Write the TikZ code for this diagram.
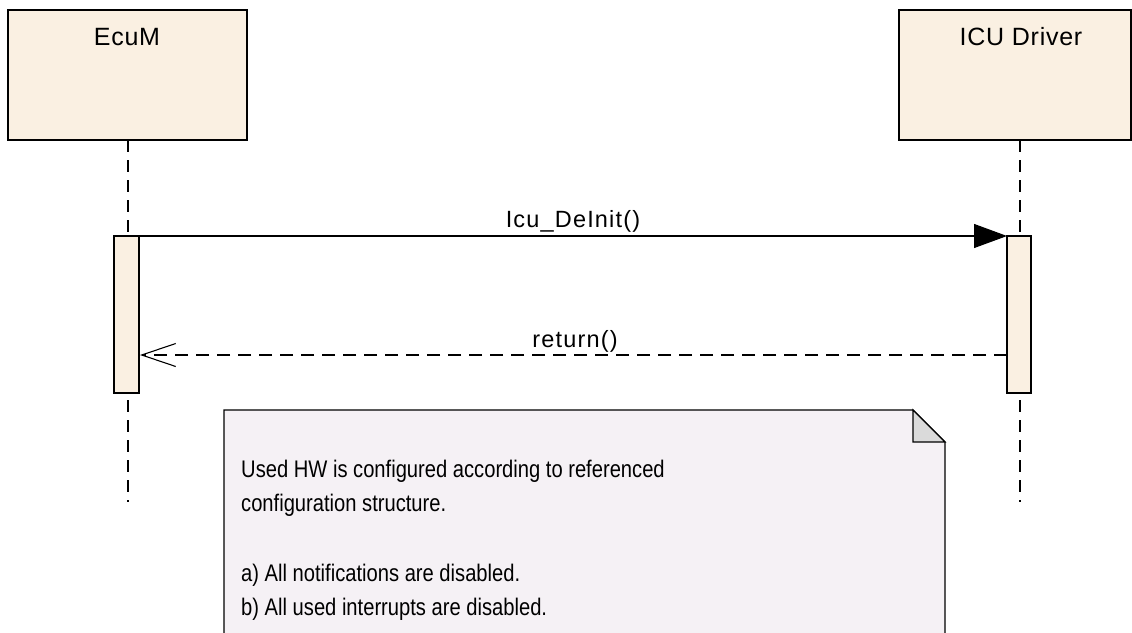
\documentclass[tikz,border=0pt]{standalone}
\usepackage{fontspec}
\setmainfont{Liberation Sans}
\usetikzlibrary{arrows.meta}
\definecolor{lifefill}{HTML}{FAF0E2}
\definecolor{notefill}{HTML}{F5F1F5}
\definecolor{foldfill}{HTML}{DADADA}
\newcommand{\notescale}[1]{\scalebox{0.84}[1]{#1}}
\begin{document}
\begin{tikzpicture}[x=1pt,y=-1pt,
  headbox/.style={draw=black,line width=1.3pt,fill=lifefill},
  actbox/.style={draw=black,line width=1.1pt,fill=lifefill},
  lifeline/.style={line width=1.1pt,dash pattern=on 12pt off 8pt},
  callmsg/.style={line width=1.1pt,-{Triangle[length=33pt,width=24pt]}},
  retmsg/.style={line width=1.1pt,dash pattern=on 13pt off 8pt,-{Straight Barb[length=34pt,width=23pt,line width=1.1pt]}},
  headlbl/.style={font=\fontsize{25}{29}\selectfont\addfontfeature{LetterSpace=3},inner sep=0pt,anchor=base},
  lbl/.style={font=\fontsize{23.5}{27}\selectfont\addfontfeature{LetterSpace=5},inner sep=0pt,anchor=base},
  notetext/.style={font=\fontsize{24}{28}\selectfont,inner sep=0pt,anchor=base west}
]
\useasboundingbox (0,0) rectangle (1132,632);
% headers
\draw[headbox] (8,10) rectangle (247,140);
\draw[headbox] (899,10) rectangle (1131,140);
\node[headlbl] (ecumlbl) at (127,45) {EcuM};
\node[headlbl] (iculbl) at (1021,45) {ICU Driver};
% lifelines
\coordinate (ecumtop) at (128,140);
\coordinate (ecumbot) at (128,502);
\coordinate (icutop) at (1020,140);
\coordinate (icubot) at (1020,502);
\draw[lifeline] (ecumtop) -- (ecumbot);
\draw[lifeline] (icutop) -- (icubot);
% activations
\draw[actbox] (114,236) rectangle (139,393);
\draw[actbox] (1007,236) rectangle (1031,393);
\coordinate (callS) at (139,236);
\coordinate (callE) at (1007,236);
\coordinate (retS) at (1007,355);
\coordinate (retE) at (140,355);
\draw[callmsg] (callS) -- (callE);
\draw[retmsg] (retS) -- (retE);
\node[lbl] (calllbl) at (573,227) {Icu\_DeInit()};
\node[lbl] (retlbl) at (575,347) {return()};
% note
\draw[line width=1.3pt,fill=notefill] (224,634) -- (224,410) -- (913,410) -- (945,442) -- (945,634);
\draw[line width=1.1pt,fill=foldfill] (913,410) -- (913,442) -- (945,442) -- cycle;
\node[notetext] (n1) at (241,477) {\notescale{Used HW is configured according to referenced}};
\node[notetext] (n2) at (241,511) {\notescale{configuration structure.}};
\node[notetext] (n3) at (241,581) {\notescale{a) All notifications are disabled.}};
\node[notetext] (n4) at (241,615) {\notescale{b) All used interrupts are disabled.}};
\end{tikzpicture}
\end{document}
